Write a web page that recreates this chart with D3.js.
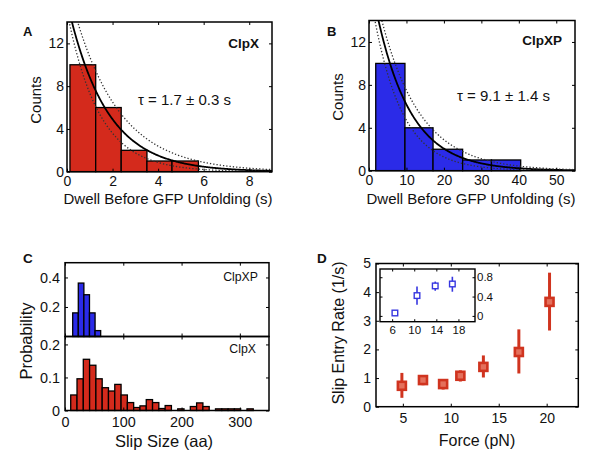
<!DOCTYPE html>
<html><head><meta charset="utf-8">
<script src="https://cdn.jsdelivr.net/npm/d3@7"></script>
<style>
body{margin:0;background:#fff;}
svg{display:block;font-family:"Liberation Sans",Arial,Helvetica,sans-serif;}
</style></head><body>
<svg id="fig" width="600" height="467"></svg>
<script>
// ---------- Panel A (ClpX dwell histogram) ----------
const aEdges = [0.13, 1.26, 2.38, 3.51, 4.61, 5.77];
const aCounts = [10, 6, 2, 1, 1];
const aFitAmp = [15.9, 17.7, 15.0];   // solid fit, dotted upper, dotted lower
const aFitTau = [1.7, 2.0, 1.4];
const aXTicks = [0, 2, 4, 6, 8];
const aYTicks = [0, 4, 8, 12];
const aLabel = "ClpX";
const aTau = "τ = 1.7 ± 0.3 s";
// ---------- Panel B (ClpXP dwell histogram) ----------
const bEdges = [1.8, 9.6, 17.1, 25.0, 32.7, 40.5];
const bCounts = [10, 4, 2, 1, 1];
const bFitAmp = [18.5, 19.4, 17.2];
const bFitTau = [9.1, 10.5, 7.7];
const bXTicks = [0, 10, 20, 30, 40, 50];
const bYTicks = [0, 4, 8, 12];
const bLabel = "ClpXP";
const bTau = "τ = 9.1 ± 1.4 s";
// ---------- Panel C (slip size histograms) ----------
const cXpEdges = [13.2, 22.8, 32.4, 42.0, 51.6, 61.2];
const cXpProb = [0.16, 0.362, 0.283, 0.16, 0.04];
const cXEdges = [9.8, 20.6, 31.4, 42.2, 53.0, 63.8, 74.6, 85.4, 96.2, 107.0, 117.8, 128.6, 139.4, 150.2, 161.0,
  171.8, 182.6, 193.4, 204.2, 215.0, 225.8, 236.6, 247.4, 258.2, 269.0, 279.8, 290.6, 301.4, 312.2, 323.0];
const cXProb = [0.047, 0.096, 0.155, 0.137, 0.096, 0.069, 0.059, 0.079, 0.047, 0.024, 0.009, 0.014, 0.033, 0.024, 0.006,
  0.015, 0, 0.005, 0, 0.012, 0.023, 0.012, 0, 0.005, 0.005, 0.005, 0.005, 0, 0.005];
const cXTicks = [0, 100, 200, 300];
const cTopYTicks = [0.2, 0.4];
const cBotYTicks = [0, 0.1, 0.2];
// ---------- Panel D (slip entry rate vs force) ----------
const dForce = [4.9, 7.1, 9.2, 11.0, 13.4, 17.1, 20.3];
const dRate  = [0.73, 0.93, 0.79, 1.08, 1.39, 1.91, 3.66];
const dLo    = [0.31, 0.75, 0.60, 0.88, 1.02, 1.16, 2.66];
const dHi    = [1.18, 1.10, 0.95, 1.27, 1.79, 2.70, 4.68];
const dXTicks = [5, 10, 15, 20];
const dYTicks = [0, 1, 2, 3, 4, 5];
const iForce = [6.5, 10.5, 13.8, 16.9];
const iRate  = [0.06, 0.42, 0.62, 0.66];
const iLo    = [0.03, 0.23, 0.52, 0.50];
const iHi    = [0.09, 0.61, 0.71, 0.81];
const iXTicks = [6, 10, 14, 18];
const iYTicks = [0, 0.4, 0.8];

const RED = "#d42a1c", BLUE = "#2b2be8", DRED = "#d0341f", IBLUE = "#3636e0";
const FF = '"Liberation Sans",Arial,Helvetica,sans-serif';
const svg = d3.select("#fig");

function addAxes(g, x, y, o) {
  const tl = o.tl || 3, fs = o.fs || 14;
  const yb = y.range()[0], yt = y.range()[1], xl = x.range()[0], xr = x.range()[1];
  const mk = (axis, tx, ty) => {
    const a = g.append("g").attr("transform", `translate(${tx},${ty})`).call(axis);
    a.select(".domain").remove();
    a.selectAll(".tick line").attr("stroke", "#000").attr("stroke-width", 1);
    a.selectAll("text").attr("font-size", fs).attr("fill", "#111").attr("font-family", FF);
    return a;
  };
  const xf = o.xfmt || (d => d), yf = o.yfmt || (d => d);
  if (o.xTicks) {
    mk(d3.axisBottom(x).tickValues(o.xTicks).tickSize(-tl).tickPadding(o.xpad ?? 4).tickFormat(o.xShow === false ? () => "" : xf), 0, yb);
    mk(d3.axisTop(x).tickValues(o.xTicks).tickSize(-tl).tickFormat(() => ""), 0, yt);
  }
  if (o.yTicks) {
    mk(d3.axisLeft(y).tickValues(o.yTicks).tickSize(-tl).tickPadding(o.ypad ?? 3).tickFormat(o.yRight ? () => "" : yf), xl, 0);
    mk(d3.axisRight(y).tickValues(o.yTicks).tickSize(-tl).tickPadding(o.ypad ?? 3).tickFormat(o.yRight ? yf : () => ""), xr, 0);
  }
}
function box(g, x, y, w) {
  g.append("rect").attr("x", x.range()[0]).attr("y", y.range()[1])
    .attr("width", x.range()[1] - x.range()[0]).attr("height", y.range()[0] - y.range()[1])
    .attr("fill", "none").attr("stroke", "#000").attr("stroke-width", w || 1.5);
}
function text(g, s, x, y, o) {
  o = o || {};
  const t = g.append("text").text(s).attr("font-family", FF).attr("font-size", o.fs || 14)
    .attr("fill", o.fill || "#111").attr("text-anchor", o.anchor || "start")
    .attr("font-weight", o.bold ? "bold" : "normal");
  if (o.rot) t.attr("transform", `translate(${x},${y}) rotate(-90)`);
  else t.attr("x", x).attr("y", y);
  return t;
}
function hist(g, x, y, edges, vals, color) {
  g.selectAll(null).data(vals).join("rect")
    .attr("x", (d, i) => x(edges[i])).attr("width", (d, i) => x(edges[i + 1]) - x(edges[i]))
    .attr("y", d => y(d)).attr("height", d => y(0) - y(d))
    .attr("fill", color).attr("stroke", "#000").attr("stroke-width", 1.3);
}
let clipN = 0;
function fitCurves(g, x, y, amps, taus) {
  const id = "clip" + (clipN++);
  g.append("clipPath").attr("id", id).append("rect")
    .attr("x", x.range()[0]).attr("y", y.range()[1])
    .attr("width", x.range()[1] - x.range()[0]).attr("height", y.range()[0] - y.range()[1]);
  const [t0, t1] = x.domain();
  const ts = d3.range(t0, t1 + 1e-9, (t1 - t0) / 300);
  amps.forEach((A, k) => {
    const line = d3.line().x(t => x(t)).y(t => y(A * Math.exp(-t / taus[k])));
    g.append("path").attr("d", line(ts)).attr("clip-path", `url(#${id})`)
      .attr("fill", "none").attr("stroke", k === 0 ? "#000" : "#333")
      .attr("stroke-width", k === 0 ? 1.8 : 1.3)
      .attr("stroke-dasharray", k === 0 ? null : "1.3,2");
  });
}

// ===== Panel A =====
{
  const g = svg.append("g");
  const x = d3.scaleLinear().domain([0, 9]).range([67, 272]);
  const y = d3.scaleLinear().domain([0, 14]).range([171.7, 22]);
  hist(g, x, y, aEdges, aCounts, RED);
  fitCurves(g, x, y, aFitAmp, aFitTau);
  addAxes(g, x, y, { xTicks: aXTicks, yTicks: aYTicks, fs: 14, xpad: 4, ypad: 3 });
  box(g, x, y);
  text(g, "A", 23, 36, { fs: 13, bold: true });
  text(g, aLabel, 259, 48, { fs: 13.5, bold: true, anchor: "end" });
  text(g, aTau, 138, 105, { fs: 15 });
  text(g, "Dwell Before GFP Unfolding (s)", 168, 204, { fs: 15, anchor: "middle" });
  text(g, "Counts", 40.5, 100, { fs: 15, anchor: "middle", rot: true });
}
// ===== Panel B =====
{
  const g = svg.append("g");
  const x = d3.scaleLinear().domain([0, 55]).range([369, 575]);
  const y = d3.scaleLinear().domain([0, 14]).range([170.7, 20.5]);
  hist(g, x, y, bEdges, bCounts, BLUE);
  fitCurves(g, x, y, bFitAmp, bFitTau);
  addAxes(g, x, y, { xTicks: bXTicks, yTicks: bYTicks, fs: 14, xpad: 4, ypad: 3 });
  box(g, x, y);
  text(g, "B", 327, 36, { fs: 13, bold: true });
  text(g, bLabel, 562, 45, { fs: 13.5, bold: true, anchor: "end" });
  text(g, bTau, 457, 101, { fs: 15 });
  text(g, "Dwell Before GFP Unfolding (s)", 471, 204, { fs: 15, anchor: "middle" });
  text(g, "Counts", 343, 97, { fs: 15, anchor: "middle", rot: true });
}
// ===== Panel C =====
{
  const g = svg.append("g");
  const x = d3.scaleLinear().domain([0, 350]).range([65, 269]);
  const yT = d3.scaleLinear().domain([0, 0.5]).range([336.5, 262.7]);
  const yB = d3.scaleLinear().domain([0, 0.224]).range([410.5, 336.5]);
  hist(g, x, yT, cXpEdges, cXpProb, BLUE);
  hist(g, x, yB, cXEdges, cXProb, RED);
  addAxes(g, x, yT, { xTicks: cXTicks, xShow: false, yTicks: cTopYTicks, fs: 14.4, ypad: 5 });
  addAxes(g, x, yB, { xTicks: cXTicks, yTicks: cBotYTicks, fs: 14.4, xpad: 6, ypad: 5 });
  box(g, x, yT);
  box(g, x, yB);
  text(g, "C", 23, 262.5, { fs: 13.5, bold: true });
  text(g, "ClpXP", 258, 281, { fs: 12.3, anchor: "end" });
  text(g, "ClpX", 256, 353, { fs: 12.3, anchor: "end" });
  text(g, "Slip Size (aa)", 164, 447, { fs: 16.5, anchor: "middle" });
  text(g, "Probability", 32, 341, { fs: 16.5, anchor: "middle", rot: true });
}
// ===== Panel D =====
{
  const g = svg.append("g");
  const x = d3.scaleLinear().domain([2.2, 23.3]).range([376, 578.3]);
  const y = d3.scaleLinear().domain([0, 5]).range([406.7, 263.5]);
  addAxes(g, x, y, { xTicks: dXTicks, yTicks: dYTicks, fs: 14, xpad: 6, ypad: 5 });
  box(g, x, y);
  g.selectAll(null).data(dForce).join("line")
    .attr("x1", d => x(d)).attr("x2", d => x(d))
    .attr("y1", (d, i) => y(dLo[i])).attr("y2", (d, i) => y(dHi[i]))
    .attr("stroke", DRED).attr("stroke-width", 3);
  g.selectAll(null).data(dForce).join("rect")
    .attr("x", d => x(d) - 4).attr("y", (d, i) => y(dRate[i]) - 4)
    .attr("width", 8).attr("height", 8)
    .attr("fill", "#e4705c").attr("stroke", DRED).attr("stroke-width", 2.6);
  // inset
  const ix = d3.scaleLinear().domain([3.8, 21]).range([380, 475]);
  const iy = d3.scaleLinear().domain([-0.12, 0.97]).range([321.7, 269]);
  g.append("rect").attr("x", 380).attr("y", 269).attr("width", 95).attr("height", 52.7).attr("fill", "#fff");
  addAxes(g, ix, iy, { xTicks: iXTicks, yTicks: iYTicks, yRight: true, fs: 11.5, tl: 2.5, xpad: 4, ypad: 2,
    yfmt: d => d === 0 ? "0" : d3.format(".1f")(d).replace(/^0/, "0") });
  g.selectAll(null).data(iForce).join("line")
    .attr("x1", d => ix(d)).attr("x2", d => ix(d))
    .attr("y1", (d, i) => iy(iLo[i])).attr("y2", (d, i) => iy(iHi[i]))
    .attr("stroke", IBLUE).attr("stroke-width", 1.6);
  g.selectAll(null).data(iForce).join("rect")
    .attr("x", d => ix(d) - 2.8).attr("y", (d, i) => iy(iRate[i]) - 2.8)
    .attr("width", 5.6).attr("height", 5.6)
    .attr("fill", "#fff").attr("stroke", IBLUE).attr("stroke-width", 1.4);
  box(g, ix, iy, 1.4);
  text(g, "D", 317, 262.5, { fs: 13.5, bold: true });
  text(g, "Force (pN)", 477, 446, { fs: 16, anchor: "middle" });
  text(g, "Slip Entry Rate (1/s)", 343.5, 333, { fs: 16, anchor: "middle", rot: true });
}
</script>
</body></html>
